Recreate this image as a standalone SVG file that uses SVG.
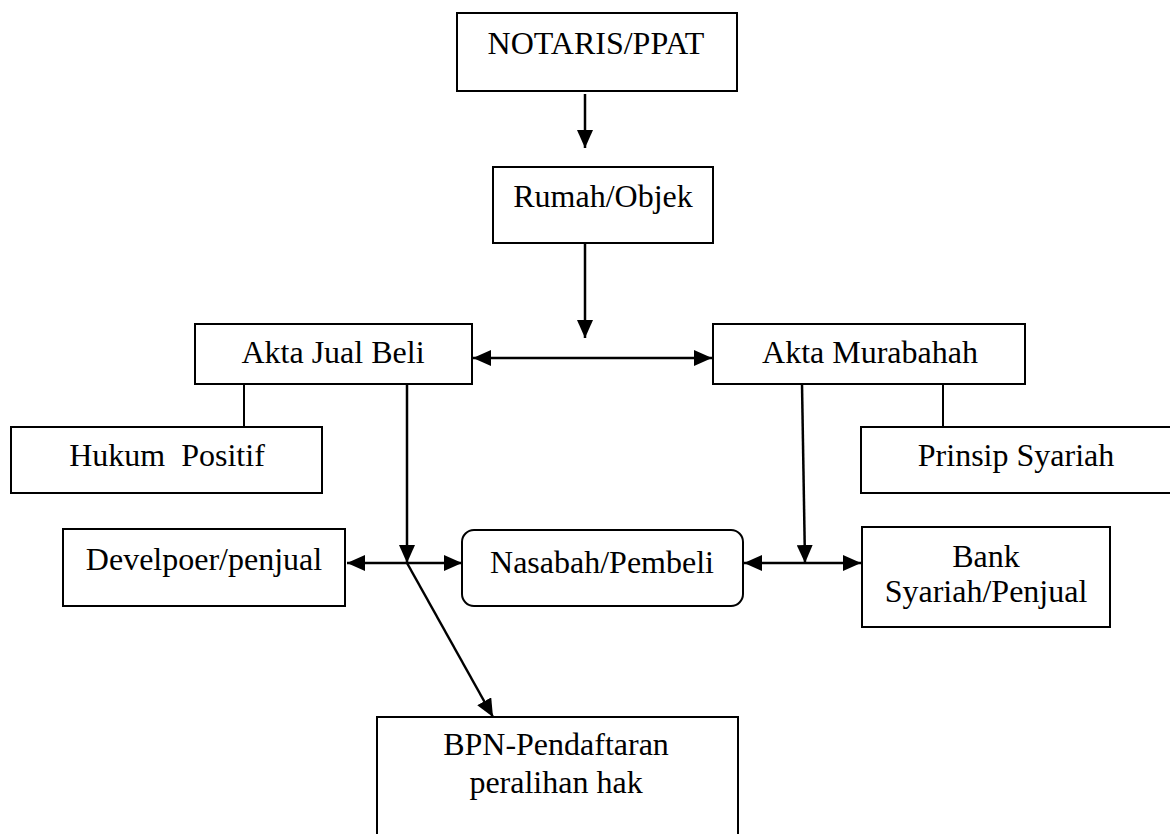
<svg xmlns="http://www.w3.org/2000/svg" width="1170" height="834" viewBox="0 0 1170 834">
<style>
.box{fill:#fff;stroke:#000;stroke-width:2}
.t{font-family:"Liberation Serif","Times New Roman",serif;font-size:32px;fill:#000;text-anchor:middle;white-space:pre}
.c{stroke:#000;stroke-width:2.5;fill:none}
.l{stroke:#000;stroke-width:2;fill:none}
</style>
<defs>
<marker id="ah" markerUnits="userSpaceOnUse" markerWidth="18" markerHeight="16" viewBox="0 0 18 16" refX="18" refY="8" orient="auto-start-reverse">
<path d="M0,0 L18,8 L0,16 Z" fill="#000"/>
</marker>
</defs>
<rect width="1170" height="834" fill="#fff"/>
<g id="connectors">
<line class="c" x1="585" y1="94" x2="585" y2="148" marker-end="url(#ah)"/>
<line class="c" x1="585" y1="243" x2="585" y2="338" marker-end="url(#ah)"/>
<line class="c" x1="473" y1="358" x2="712" y2="358" marker-start="url(#ah)" marker-end="url(#ah)"/>
<line class="l" x1="244" y1="384" x2="244" y2="427"/>
<line class="l" x1="943" y1="384" x2="943" y2="427"/>
<line class="c" x1="407" y1="384" x2="407" y2="563" marker-end="url(#ah)"/>
<line class="c" x1="802" y1="384" x2="805" y2="563" marker-end="url(#ah)"/>
<line class="c" x1="347" y1="563" x2="462" y2="563" marker-start="url(#ah)" marker-end="url(#ah)"/>
<line class="c" x1="744" y1="563" x2="861" y2="563" marker-start="url(#ah)" marker-end="url(#ah)"/>
<line class="c" x1="407" y1="563" x2="493" y2="717" marker-end="url(#ah)"/>
</g>
<g id="notaris"><rect class="box" x="457" y="13" width="280" height="78"/><text class="t" x="596" y="54">NOTARIS/PPAT</text></g>
<g id="rumah"><rect class="box" x="493" y="167" width="220" height="76"/><text class="t" x="603" y="207">Rumah/Objek</text></g>
<g id="ajb"><rect class="box" x="195" y="324" width="277" height="60"/><text class="t" x="333" y="363">Akta Jual Beli</text></g>
<g id="murabahah"><rect class="box" x="713" y="324" width="312" height="60"/><text class="t" x="870" y="363">Akta Murabahah</text></g>
<g id="hukum"><rect class="box" x="11" y="427" width="311" height="66"/><text class="t" x="167" y="466">Hukum  Positif</text></g>
<g id="prinsip"><rect class="box" x="861" y="427" width="312" height="66"/><text class="t" x="1016" y="466">Prinsip Syariah</text></g>
<g id="developer"><rect class="box" x="63" y="529" width="282" height="77"/><text class="t" x="204" y="570">Develpoer/penjual</text></g>
<g id="nasabah"><rect class="box" x="462" y="530" width="281" height="76" rx="12"/><text class="t" x="602" y="573">Nasabah/Pembeli</text></g>
<g id="bank"><rect class="box" x="862" y="527" width="248" height="100"/><text class="t" x="986" y="567">Bank</text><text class="t" x="986" y="602">Syariah/Penjual</text></g>
<g id="bpn"><rect class="box" x="377" y="717" width="361" height="130"/><text class="t" x="556" y="755">BPN-Pendaftaran</text><text class="t" x="556" y="793">peralihan hak</text></g>
</svg>
